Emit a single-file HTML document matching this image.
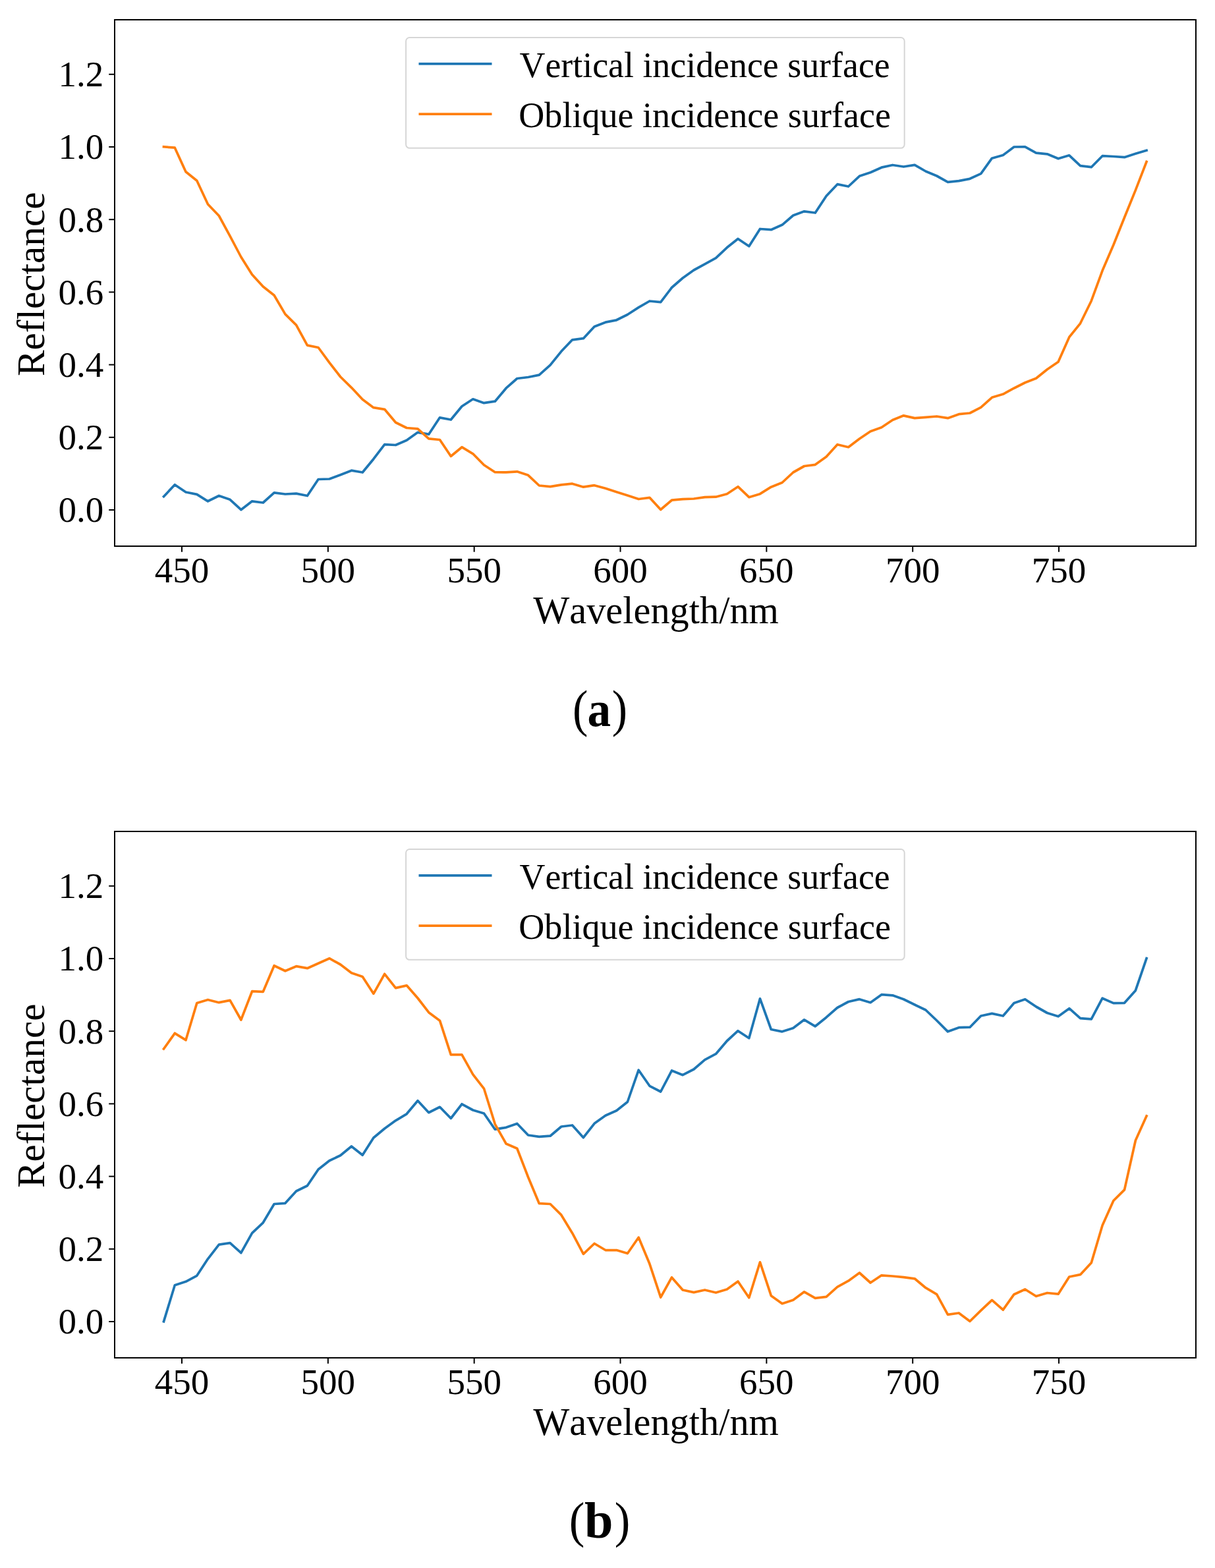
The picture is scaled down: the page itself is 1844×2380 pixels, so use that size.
<!DOCTYPE html>
<html><head><meta charset="utf-8"><title>Reflectance spectra</title>
<style>
html,body{margin:0;padding:0;background:#fff;}
body{width:1844px;height:2380px;overflow:hidden;}
svg{display:block;}
text{font-kerning:none;font-variant-ligatures:none;}
.tk{font-family:"Liberation Serif", "Times New Roman", serif;font-size:55px;fill:#000;}
.lb{font-family:"Liberation Serif", "Times New Roman", serif;font-size:60px;fill:#000;}
.cap{font-family:"Liberation Serif", "Times New Roman", serif;font-size:77px;fill:#000;}
</style></head>
<body>
<svg width="1844" height="2380" viewBox="0 0 1844 2380">
<rect x="0" y="0" width="1844" height="2380" fill="#fff"/>
<polyline fill="none" stroke="#1f77b4" stroke-width="3.75" stroke-linejoin="round" stroke-linecap="square" points="248.5,753.7 265.3,735.8 282.0,747.0 298.8,750.3 315.5,760.8 332.3,752.5 349.1,758.3 365.8,773.7 382.6,760.8 399.3,763.0 416.1,747.8 432.9,750.0 449.6,749.2 466.4,752.5 483.1,727.5 499.9,727.0 516.7,720.8 533.4,714.2 550.2,717.0 566.9,696.7 583.7,674.7 600.5,675.5 617.2,668.3 634.0,656.3 650.7,659.2 667.5,633.8 684.3,637.0 701.0,616.7 717.8,605.8 734.5,611.7 751.3,609.2 768.1,589.2 784.8,574.5 801.6,572.5 818.3,569.2 835.1,554.2 851.9,533.3 868.6,515.8 885.4,513.7 902.1,495.8 918.9,489.2 935.7,485.8 952.4,477.5 969.2,466.7 985.9,457.0 1002.7,458.7 1019.5,436.5 1036.2,422.0 1053.0,410.0 1069.7,400.8 1086.5,391.7 1103.3,375.8 1120.0,362.5 1136.8,373.7 1153.5,347.5 1170.3,348.7 1187.1,341.3 1203.8,327.0 1220.6,320.8 1237.3,323.0 1254.1,297.5 1270.9,279.7 1287.6,283.0 1304.4,267.3 1321.1,261.7 1337.9,254.2 1354.7,250.5 1371.4,253.0 1388.2,250.3 1404.9,260.0 1421.7,267.0 1438.5,276.3 1455.2,274.7 1472.0,271.3 1488.7,263.6 1505.5,240.2 1522.3,235.5 1539.0,223.0 1555.8,222.9 1572.5,232.2 1589.3,233.8 1606.1,240.8 1622.8,235.8 1639.6,251.7 1656.3,253.7 1673.1,236.7 1689.9,237.5 1706.6,238.7 1723.4,233.3 1740.1,228.3"/>
<polyline fill="none" stroke="#ff7f0e" stroke-width="3.75" stroke-linejoin="round" stroke-linecap="square" points="248.5,222.8 265.3,224.2 282.0,260.8 298.8,274.2 315.5,310.0 332.3,327.5 349.1,358.3 365.8,390.0 382.6,416.7 399.3,435.0 416.1,448.3 432.9,476.9 449.6,493.3 466.4,524.2 483.1,527.5 499.9,550.4 516.7,572.0 533.4,588.3 550.2,606.3 566.9,618.7 583.7,621.3 600.5,641.2 617.2,649.5 634.0,650.8 650.7,665.8 667.5,667.5 684.3,692.5 701.0,678.7 717.8,688.8 734.5,705.8 751.3,716.7 768.1,716.8 784.8,715.8 801.6,721.3 818.3,737.0 835.1,738.7 851.9,735.8 868.6,734.2 885.4,739.2 902.1,736.7 918.9,741.3 935.7,746.7 952.4,752.0 969.2,757.5 985.9,755.3 1002.7,773.5 1019.5,759.2 1036.2,757.7 1053.0,757.0 1069.7,754.7 1086.5,754.2 1103.3,749.7 1120.0,738.7 1136.8,754.7 1153.5,749.7 1170.3,739.2 1187.1,732.5 1203.8,717.0 1220.6,707.5 1237.3,705.3 1254.1,693.3 1270.9,674.7 1287.6,678.7 1304.4,666.0 1321.1,654.7 1337.9,648.7 1354.7,637.5 1371.4,630.8 1388.2,634.7 1404.9,633.3 1421.7,632.0 1438.5,634.7 1455.2,628.7 1472.0,627.0 1488.7,618.3 1505.5,603.3 1522.3,598.3 1539.0,589.2 1555.8,580.8 1572.5,574.2 1589.3,560.8 1606.1,549.2 1622.8,511.7 1639.6,490.8 1656.3,456.7 1673.1,410.8 1689.9,371.7 1706.6,330.0 1723.4,288.6 1740.1,245.5"/>
<rect x="174" y="30" width="1641" height="799" fill="none" stroke="#000" stroke-width="2"/>
<line x1="165.25" y1="774.00" x2="174" y2="774.00" stroke="#000" stroke-width="2"/>
<text x="157.3" y="792.30" class="tk" text-anchor="end">0.0</text>
<line x1="165.25" y1="663.80" x2="174" y2="663.80" stroke="#000" stroke-width="2"/>
<text x="157.3" y="682.10" class="tk" text-anchor="end">0.2</text>
<line x1="165.25" y1="553.60" x2="174" y2="553.60" stroke="#000" stroke-width="2"/>
<text x="157.3" y="571.90" class="tk" text-anchor="end">0.4</text>
<line x1="165.25" y1="443.40" x2="174" y2="443.40" stroke="#000" stroke-width="2"/>
<text x="157.3" y="461.70" class="tk" text-anchor="end">0.6</text>
<line x1="165.25" y1="333.20" x2="174" y2="333.20" stroke="#000" stroke-width="2"/>
<text x="157.3" y="351.50" class="tk" text-anchor="end">0.8</text>
<line x1="165.25" y1="223.00" x2="174" y2="223.00" stroke="#000" stroke-width="2"/>
<text x="157.3" y="241.30" class="tk" text-anchor="end">1.0</text>
<line x1="165.25" y1="112.80" x2="174" y2="112.80" stroke="#000" stroke-width="2"/>
<text x="157.3" y="131.10" class="tk" text-anchor="end">1.2</text>
<line x1="276.00" y1="829" x2="276.00" y2="837.75" stroke="#000" stroke-width="2"/>
<text x="276.00" y="884.10" class="tk" text-anchor="middle">450</text>
<line x1="497.84" y1="829" x2="497.84" y2="837.75" stroke="#000" stroke-width="2"/>
<text x="497.84" y="884.10" class="tk" text-anchor="middle">500</text>
<line x1="719.68" y1="829" x2="719.68" y2="837.75" stroke="#000" stroke-width="2"/>
<text x="719.68" y="884.10" class="tk" text-anchor="middle">550</text>
<line x1="941.52" y1="829" x2="941.52" y2="837.75" stroke="#000" stroke-width="2"/>
<text x="941.52" y="884.10" class="tk" text-anchor="middle">600</text>
<line x1="1163.36" y1="829" x2="1163.36" y2="837.75" stroke="#000" stroke-width="2"/>
<text x="1163.36" y="884.10" class="tk" text-anchor="middle">650</text>
<line x1="1385.20" y1="829" x2="1385.20" y2="837.75" stroke="#000" stroke-width="2"/>
<text x="1385.20" y="884.10" class="tk" text-anchor="middle">700</text>
<line x1="1607.04" y1="829" x2="1607.04" y2="837.75" stroke="#000" stroke-width="2"/>
<text x="1607.04" y="884.10" class="tk" text-anchor="middle">750</text>
<text x="995.6" y="945.90" class="lb" text-anchor="middle" textLength="372.8" lengthAdjust="spacingAndGlyphs">Wavelength/nm</text>
<text transform="translate(67.3,431.25) rotate(-90)" x="0" y="0" class="lb" text-anchor="middle" textLength="279.6" lengthAdjust="spacingAndGlyphs">Reflectance</text>
<rect x="616.1" y="57.00" width="756.6" height="167.8" rx="5.5" ry="5.5" fill="#fff" fill-opacity="0.8" stroke="#cccccc" stroke-opacity="0.8" stroke-width="2"/>
<line x1="635.5" y1="96.90" x2="746.5" y2="96.90" stroke="#1f77b4" stroke-width="3.75"/>
<line x1="635.5" y1="173.10" x2="746.5" y2="173.10" stroke="#ff7f0e" stroke-width="3.75"/>
<text x="788.5" y="116.50" class="tk" textLength="562.2" lengthAdjust="spacingAndGlyphs">Vertical incidence surface</text>
<text x="787.3" y="192.70" class="tk" textLength="564.7" lengthAdjust="spacingAndGlyphs">Oblique incidence surface</text>
<polyline fill="none" stroke="#1f77b4" stroke-width="3.75" stroke-linejoin="round" stroke-linecap="square" points="248.5,2005.8 265.3,1950.8 282.0,1945.3 298.8,1936.3 315.5,1910.8 332.3,1889.2 349.1,1886.7 365.8,1901.7 382.6,1871.7 399.3,1855.8 416.1,1827.5 432.9,1826.3 449.6,1808.0 466.4,1799.7 483.1,1775.0 499.9,1761.7 516.7,1753.8 533.4,1740.0 550.2,1753.3 566.9,1727.0 583.7,1713.0 600.5,1700.8 617.2,1690.8 634.0,1670.8 650.7,1688.7 667.5,1680.3 684.3,1697.5 701.0,1675.8 717.8,1685.0 734.5,1690.0 751.3,1714.2 768.1,1711.3 784.8,1705.5 801.6,1723.0 818.3,1725.3 835.1,1724.2 851.9,1710.0 868.6,1708.0 885.4,1726.7 902.1,1705.3 918.9,1693.3 935.7,1685.8 952.4,1672.5 969.2,1624.2 985.9,1648.3 1002.7,1657.0 1019.5,1625.0 1036.2,1631.7 1053.0,1623.0 1069.7,1608.7 1086.5,1599.7 1103.3,1580.0 1120.0,1564.7 1136.8,1575.8 1153.5,1515.8 1170.3,1562.5 1187.1,1565.8 1203.8,1560.5 1220.6,1547.8 1237.3,1557.8 1254.1,1544.2 1270.9,1529.5 1287.6,1520.5 1304.4,1516.7 1321.1,1521.7 1337.9,1509.7 1354.7,1510.8 1371.4,1516.7 1388.2,1525.0 1404.9,1533.0 1421.7,1549.0 1438.5,1565.8 1455.2,1559.7 1472.0,1559.2 1488.7,1542.0 1505.5,1538.3 1522.3,1542.0 1539.0,1522.5 1555.8,1516.7 1572.5,1528.0 1589.3,1537.5 1606.1,1542.8 1622.8,1530.7 1639.6,1545.6 1656.3,1546.8 1673.1,1515.2 1689.9,1522.6 1706.6,1522.3 1723.4,1503.4 1740.1,1454.6"/>
<polyline fill="none" stroke="#ff7f0e" stroke-width="3.75" stroke-linejoin="round" stroke-linecap="square" points="248.5,1592.0 265.3,1568.3 282.0,1578.7 298.8,1522.5 315.5,1517.5 332.3,1521.7 349.1,1518.3 365.8,1548.0 382.6,1504.7 399.3,1505.3 416.1,1465.8 432.9,1473.8 449.6,1466.7 466.4,1469.7 483.1,1462.2 499.9,1454.7 516.7,1464.0 533.4,1476.7 550.2,1482.5 566.9,1508.3 583.7,1478.3 600.5,1499.7 617.2,1495.8 634.0,1515.0 650.7,1536.7 667.5,1549.2 684.3,1600.8 701.0,1600.8 717.8,1630.8 734.5,1652.3 751.3,1706.3 768.1,1736.0 784.8,1743.3 801.6,1786.7 818.3,1826.7 835.1,1827.5 851.9,1844.2 868.6,1871.7 885.4,1903.3 902.1,1887.5 918.9,1897.5 935.7,1897.5 952.4,1902.5 969.2,1878.3 985.9,1918.3 1002.7,1969.2 1019.5,1938.9 1036.2,1958.0 1053.0,1961.7 1069.7,1958.0 1086.5,1962.0 1103.3,1957.0 1120.0,1945.0 1136.8,1969.7 1153.5,1915.8 1170.3,1966.7 1187.1,1978.7 1203.8,1973.3 1220.6,1960.8 1237.3,1970.3 1254.1,1968.3 1270.9,1953.3 1287.6,1944.2 1304.4,1932.0 1321.1,1947.0 1337.9,1935.8 1354.7,1937.0 1371.4,1938.7 1388.2,1940.8 1404.9,1954.7 1421.7,1964.7 1438.5,1995.3 1455.2,1993.0 1472.0,2005.5 1488.7,1989.2 1505.5,1973.4 1522.3,1988.2 1539.0,1964.7 1555.8,1957.0 1572.5,1967.5 1589.3,1962.5 1606.1,1964.2 1622.8,1938.0 1639.6,1934.7 1656.3,1916.7 1673.1,1860.0 1689.9,1822.5 1706.6,1805.8 1723.4,1731.0 1740.1,1694.0"/>
<rect x="174" y="1262" width="1641" height="799" fill="none" stroke="#000" stroke-width="2"/>
<line x1="165.25" y1="2006.00" x2="174" y2="2006.00" stroke="#000" stroke-width="2"/>
<text x="157.3" y="2024.30" class="tk" text-anchor="end">0.0</text>
<line x1="165.25" y1="1895.80" x2="174" y2="1895.80" stroke="#000" stroke-width="2"/>
<text x="157.3" y="1914.10" class="tk" text-anchor="end">0.2</text>
<line x1="165.25" y1="1785.60" x2="174" y2="1785.60" stroke="#000" stroke-width="2"/>
<text x="157.3" y="1803.90" class="tk" text-anchor="end">0.4</text>
<line x1="165.25" y1="1675.40" x2="174" y2="1675.40" stroke="#000" stroke-width="2"/>
<text x="157.3" y="1693.70" class="tk" text-anchor="end">0.6</text>
<line x1="165.25" y1="1565.20" x2="174" y2="1565.20" stroke="#000" stroke-width="2"/>
<text x="157.3" y="1583.50" class="tk" text-anchor="end">0.8</text>
<line x1="165.25" y1="1455.00" x2="174" y2="1455.00" stroke="#000" stroke-width="2"/>
<text x="157.3" y="1473.30" class="tk" text-anchor="end">1.0</text>
<line x1="165.25" y1="1344.80" x2="174" y2="1344.80" stroke="#000" stroke-width="2"/>
<text x="157.3" y="1363.10" class="tk" text-anchor="end">1.2</text>
<line x1="276.00" y1="2061" x2="276.00" y2="2069.75" stroke="#000" stroke-width="2"/>
<text x="276.00" y="2116.10" class="tk" text-anchor="middle">450</text>
<line x1="497.84" y1="2061" x2="497.84" y2="2069.75" stroke="#000" stroke-width="2"/>
<text x="497.84" y="2116.10" class="tk" text-anchor="middle">500</text>
<line x1="719.68" y1="2061" x2="719.68" y2="2069.75" stroke="#000" stroke-width="2"/>
<text x="719.68" y="2116.10" class="tk" text-anchor="middle">550</text>
<line x1="941.52" y1="2061" x2="941.52" y2="2069.75" stroke="#000" stroke-width="2"/>
<text x="941.52" y="2116.10" class="tk" text-anchor="middle">600</text>
<line x1="1163.36" y1="2061" x2="1163.36" y2="2069.75" stroke="#000" stroke-width="2"/>
<text x="1163.36" y="2116.10" class="tk" text-anchor="middle">650</text>
<line x1="1385.20" y1="2061" x2="1385.20" y2="2069.75" stroke="#000" stroke-width="2"/>
<text x="1385.20" y="2116.10" class="tk" text-anchor="middle">700</text>
<line x1="1607.04" y1="2061" x2="1607.04" y2="2069.75" stroke="#000" stroke-width="2"/>
<text x="1607.04" y="2116.10" class="tk" text-anchor="middle">750</text>
<text x="995.6" y="2177.90" class="lb" text-anchor="middle" textLength="372.8" lengthAdjust="spacingAndGlyphs">Wavelength/nm</text>
<text transform="translate(67.3,1663.25) rotate(-90)" x="0" y="0" class="lb" text-anchor="middle" textLength="279.6" lengthAdjust="spacingAndGlyphs">Reflectance</text>
<rect x="616.1" y="1289.00" width="756.6" height="167.8" rx="5.5" ry="5.5" fill="#fff" fill-opacity="0.8" stroke="#cccccc" stroke-opacity="0.8" stroke-width="2"/>
<line x1="635.5" y1="1328.90" x2="746.5" y2="1328.90" stroke="#1f77b4" stroke-width="3.75"/>
<line x1="635.5" y1="1405.10" x2="746.5" y2="1405.10" stroke="#ff7f0e" stroke-width="3.75"/>
<text x="788.5" y="1348.50" class="tk" textLength="562.2" lengthAdjust="spacingAndGlyphs">Vertical incidence surface</text>
<text x="787.3" y="1424.70" class="tk" textLength="564.7" lengthAdjust="spacingAndGlyphs">Oblique incidence surface</text>
<text transform="translate(869.00,1101.60) scale(0.905,1)" x="0" y="0" class="cap" style="font-size:77.5px">(</text>
<text transform="translate(891.50,1102.10) scale(0.947,1)" x="0" y="0" class="cap" style="font-size:75.2px" font-weight="bold">a</text>
<text transform="translate(928.75,1101.60) scale(0.905,1)" x="0" y="0" class="cap" style="font-size:77.5px">)</text>
<text transform="translate(863.80,2333.40) scale(0.919,1)" x="0" y="0" class="cap" style="font-size:77.1px">(</text>
<text transform="translate(887.00,2334.20) scale(1.000,1)" x="0" y="0" class="cap" style="font-size:78.2px" font-weight="bold">b</text>
<text transform="translate(932.70,2333.40) scale(0.919,1)" x="0" y="0" class="cap" style="font-size:77.1px">)</text>
</svg>
</body></html>
